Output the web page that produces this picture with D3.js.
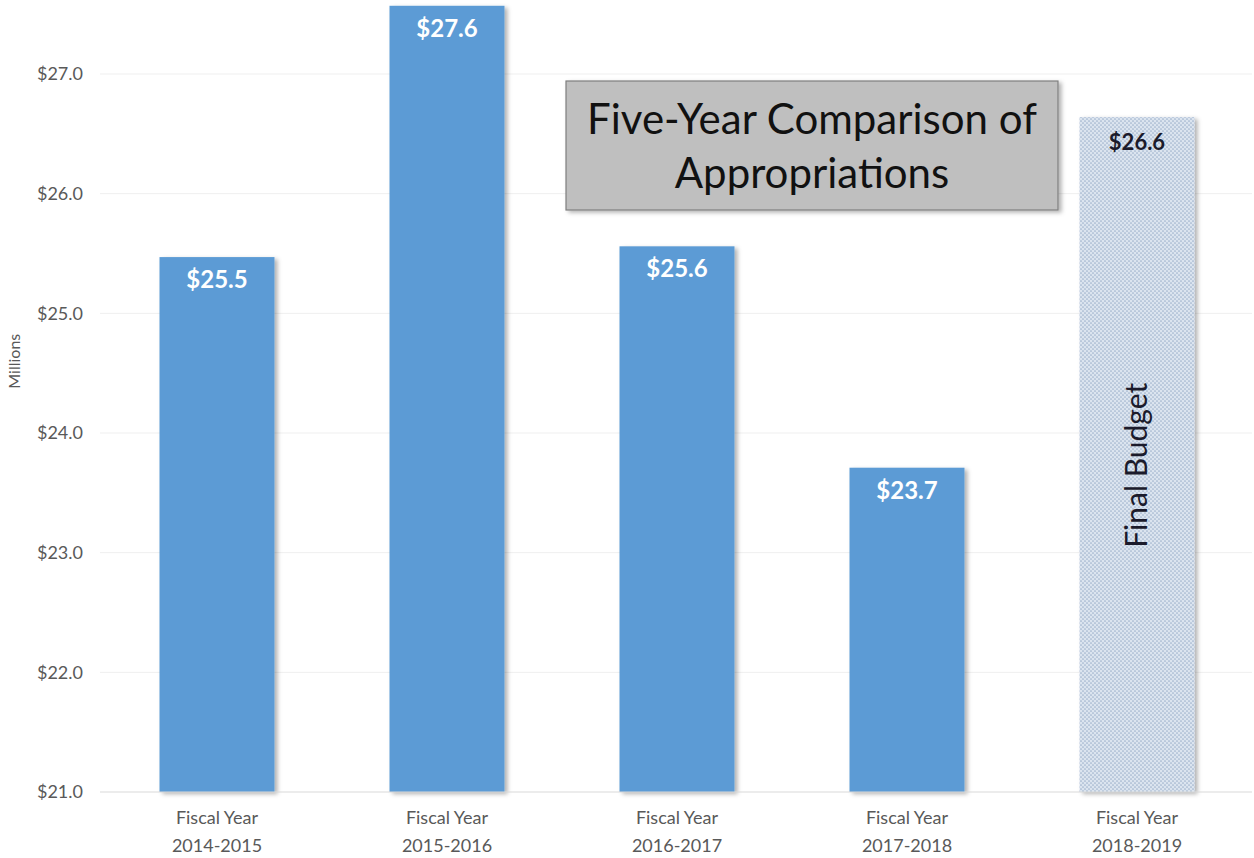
<!DOCTYPE html>
<html>
<head>
<meta charset="utf-8">
<script src="https://cdn.jsdelivr.net/npm/d3@7"></script>
<style>
  html, body { margin: 0; padding: 0; background: #fff; }
  svg { display: block; font-family: "Lato", "Open Sans", sans-serif; }
</style>
</head>
<body>
<svg id="chart" width="1254" height="858"></svg>
<script>
// Appropriations by fiscal year, in millions of dollars
const fiscalYears = ["Fiscal Year\n2014-2015", "Fiscal Year\n2015-2016", "Fiscal Year\n2016-2017", "Fiscal Year\n2017-2018", "Fiscal Year\n2018-2019"];
const appropriations = [25.47, 27.57, 25.56, 23.71, 26.64];
const isBudget = [false, false, false, false, true];
const yTicks = [21, 22, 23, 24, 25, 26, 27];
const titleLines = ["Five-Year Comparison of", "Appropriations"];
const budgetNote = "Final Budget";

const svg = d3.select("#chart");
const defs = svg.append("defs");

// soft drop shadow for bars and the title box
const shadow = defs.append("filter").attr("id", "shadow")
  .attr("x", "-10%").attr("y", "-10%").attr("width", "130%").attr("height", "130%");
shadow.append("feDropShadow").attr("dx", 3).attr("dy", 2).attr("stdDeviation", 2)
  .attr("flood-color", "#000").attr("flood-opacity", 0.3);

// dotted fill for the budget year
const pat = defs.append("pattern").attr("id", "dots")
  .attr("patternUnits", "userSpaceOnUse").attr("width", 4).attr("height", 4);
pat.append("rect").attr("width", 4).attr("height", 4).attr("fill", "#dbe4ef");
pat.append("circle").attr("cx", 1).attr("cy", 1).attr("r", 0.85).attr("fill", "#9fb3cc");
pat.append("circle").attr("cx", 3).attr("cy", 3).attr("r", 0.85).attr("fill", "#9fb3cc");

const x = d3.scaleBand().domain(fiscalYears).range([102, 1252]).paddingInner(0.5).paddingOuter(0.25);
const y = d3.scaleLinear().domain([21, 27]).range([792, 74]);

// gridlines
svg.append("g").selectAll("line").data(yTicks.slice(1)).join("line")
  .attr("x1", 100).attr("x2", 1252)
  .attr("y1", d => y(d)).attr("y2", d => y(d))
  .attr("stroke", "#efefef").attr("stroke-width", 1);

// y axis labels
const yAxis = d3.axisLeft(y).tickValues(yTicks).tickFormat(d => "$" + d3.format(".1f")(d)).tickSize(0).tickPadding(0);
const gy = svg.append("g").attr("transform", "translate(83,0)").call(yAxis);
gy.select(".domain").remove();
gy.selectAll("text").attr("fill", "#595959").style("font-size", "18px").style("font-family", "Lato, sans-serif");

// Millions axis title
svg.append("text").attr("transform", `translate(20,${y(24.6)}) rotate(-90)`)
  .attr("text-anchor", "middle").attr("fill", "#595959").style("font-size", "16px").text("Millions");

// bars
svg.append("g").selectAll("rect").data(appropriations).join("rect")
  .attr("x", (d, i) => x(fiscalYears[i]))
  .attr("width", x.bandwidth())
  .attr("y", d => y(d))
  .attr("height", d => y(21) - y(d))
  .attr("fill", (d, i) => isBudget[i] ? "url(#dots)" : "#5b9bd5")
  .attr("filter", "url(#shadow)");

// baseline
svg.append("line").attr("x1", 100).attr("x2", 1252).attr("y1", y(21)).attr("y2", y(21))
  .attr("stroke", "#d9d9d9").attr("stroke-width", 1.2);

// value labels
svg.append("g").selectAll("text").data(appropriations).join("text")
  .attr("x", (d, i) => x(fiscalYears[i]) + x.bandwidth() / 2)
  .attr("y", (d, i) => y(d) + (isBudget[i] ? 33 : 31))
  .attr("text-anchor", "middle")
  .attr("fill", (d, i) => isBudget[i] ? "#1b1b2b" : "#ffffff")
  .style("font-size", (d, i) => isBudget[i] ? "22px" : "24px")
  .style("font-weight", "bold")
  .text(d => "$" + d3.format(".1f")(d));

// category labels
const gx = svg.append("g");
fiscalYears.forEach((c) => {
  const cx = x(c) + x.bandwidth() / 2;
  const t = gx.append("text")
    .attr("text-anchor", "middle").attr("fill", "#595959").style("font-size", "18px");
  c.split("\n").forEach((line, k) => {
    t.append("tspan").attr("x", cx).attr("y", 824 + k * 28).text(line);
  });
});

// rotated note on the budget bar
const bi = isBudget.indexOf(true);
svg.append("text")
  .attr("transform", `translate(${x(fiscalYears[bi]) + x.bandwidth() / 2 + 10},${y(23.73)}) rotate(-90)`)
  .attr("text-anchor", "middle").attr("fill", "#1b1b2b").style("font-size", "30px")
  .text(budgetNote);

// title box
svg.append("rect").attr("x", 566).attr("y", 81).attr("width", 492).attr("height", 129)
  .attr("fill", "#bfbfbf").attr("stroke", "#7f7f7f").attr("stroke-width", 1.2)
  .attr("filter", "url(#shadow)");
svg.append("g").selectAll("text").data(titleLines).join("text")
  .attr("x", 812).attr("y", (d, i) => 134 + i * 54)
  .attr("text-anchor", "middle").attr("fill", "#111").style("font-size", "42px")
  .text(d => d);
</script>
</body>
</html>
